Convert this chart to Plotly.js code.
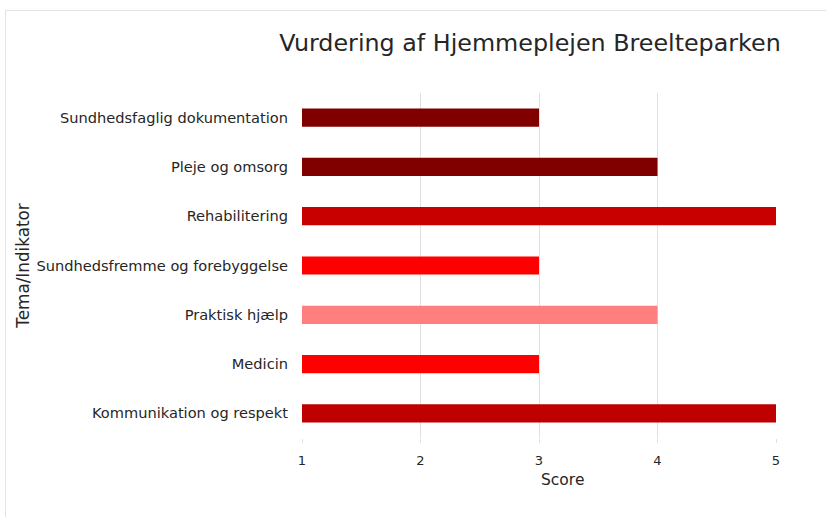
<!DOCTYPE html>
<html>
<head>
<meta charset="utf-8">
<script src="https://cdn.plot.ly/plotly-3.0.1.min.js"></script>
<style>
  html, body { margin: 0; padding: 0; background: #ffffff; overflow: hidden; }
  #chart { width: 826px; height: 517px; }
  #frame { position: absolute; left: 5px; top: 10px; width: 840px; height: 520px;
           border: 1px solid #e4e4e4; pointer-events: none; }
</style>
</head>
<body>
<div id="chart"></div>
<div id="frame"></div>
<script>
const categories = [
  "Sundhedsfaglig dokumentation",
  "Pleje og omsorg",
  "Rehabilitering",
  "Sundhedsfremme og forebyggelse",
  "Praktisk hjælp",
  "Medicin",
  "Kommunikation og respekt"
];
const scores = [3, 4, 5, 3, 4, 3, 5];
const barColors = ["#800000", "#800000", "#c80000", "#ff0000", "#ff7f7f", "#ff0000", "#be0000"];
const xTicks = [1, 2, 3, 4, 5];
const scaleMin = 1;
const scaleMax = 5;

const trace = {
  type: "bar",
  orientation: "h",
  y: categories,
  x: scores.map(s => s - scaleMin),
  base: scaleMin,
  width: 0.37,
  marker: { color: barColors, line: { width: 0 } },
  hoverinfo: "y+text",
  text: scores.map(String),
  textposition: "none"
};

const font = "'DejaVu Sans', Verdana, sans-serif";

const layout = {
  width: 826,
  height: 517,
  margin: { l: 302, r: 50, t: 93, b: 79 },
  paper_bgcolor: "#ffffff",
  plot_bgcolor: "#ffffff",
  font: { family: font, color: "#262626", size: 13 },
  showlegend: false,
  title: {
    text: "Vurdering af Hjemmeplejen Breelteparken",
    font: { family: font, size: 23.8, color: "#262626" },
    x: 0.481, xanchor: "center", xref: "paper",
    y: 0.918, yanchor: "middle", yref: "container"
  },
  xaxis: {
    range: [scaleMin, scaleMax],
    tickvals: xTicks,
    ticktext: xTicks.map(String),
    showgrid: true,
    gridcolor: "#e0e0e0",
    gridwidth: 1,
    zeroline: false,
    showline: false,
    ticks: "outside",
    ticklen: 4,
    tickcolor: "#e0e0e0",
    ticklabelstandoff: 6,
    tickfont: { family: font, size: 13, color: "#262626" },
    fixedrange: true
  },
  yaxis: {
    type: "category",
    autorange: "reversed",
    showgrid: false,
    zeroline: false,
    showline: false,
    ticks: "",
    ticklabelstandoff: 13,
    tickfont: { family: font, size: 14.6, color: "#262626" },
    title: { text: "Tema/Indikator", font: { family: font, size: 16.8, color: "#262626" }, standoff: 2 },
    fixedrange: true
  },
  annotations: [{
    text: "Score",
    xref: "paper", yref: "paper",
    x: 0.549, y: -0.122,
    xanchor: "center", yanchor: "middle",
    showarrow: false,
    font: { family: font, size: 15.5, color: "#262626" }
  }],
  bargap: 0.63
};

Plotly.newPlot("chart", [trace], layout, { displayModeBar: false, staticPlot: true });
</script>
</body>
</html>
